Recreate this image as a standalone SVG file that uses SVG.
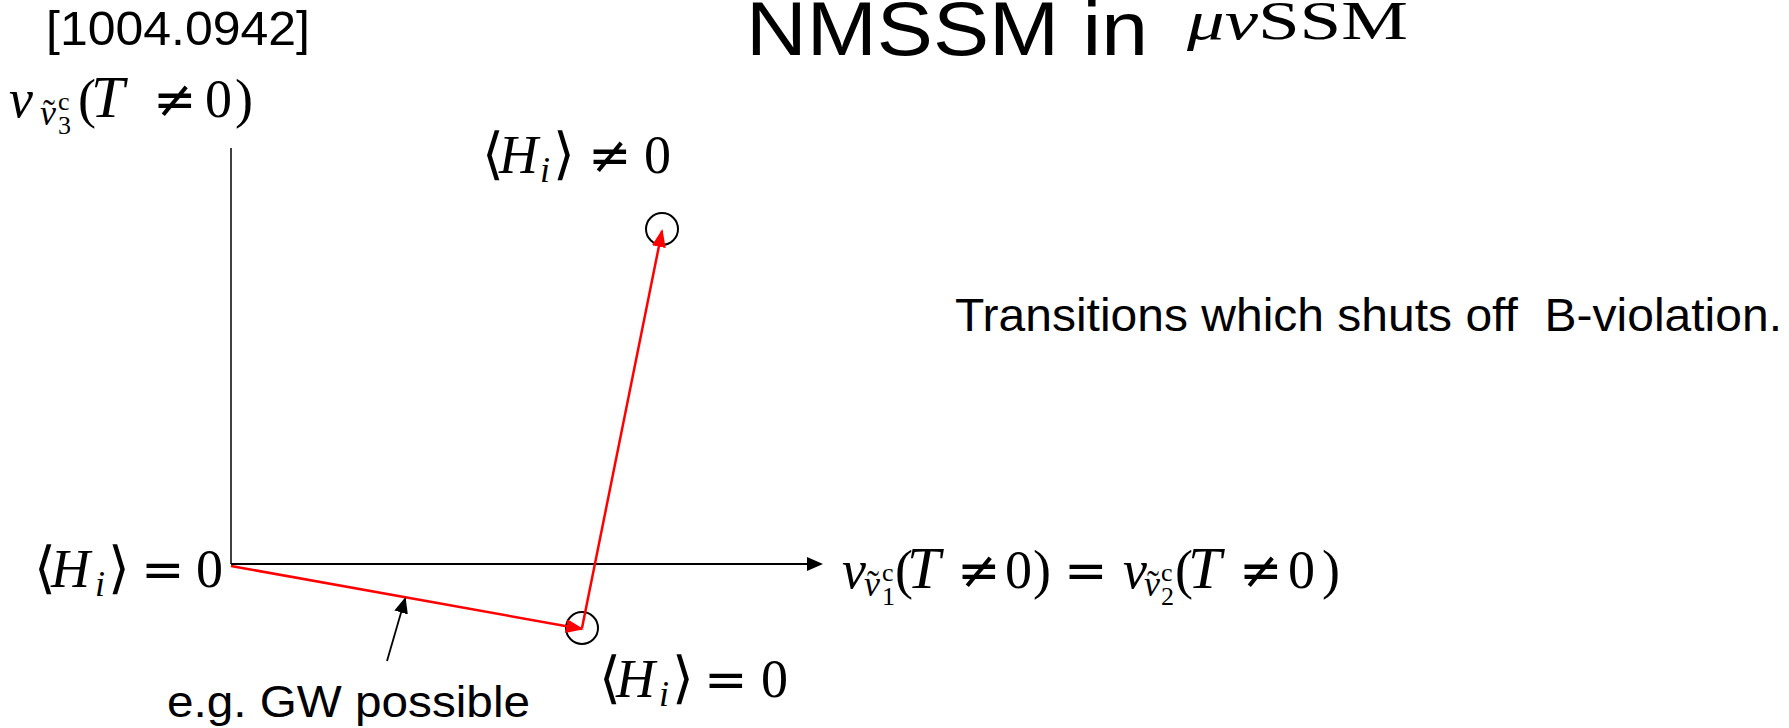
<svg xmlns="http://www.w3.org/2000/svg" width="1789" height="728" viewBox="0 0 1789 728">
<style>
.sans{font-family:"Liberation Sans",Arial,sans-serif;fill:#000}
.m{font-family:"Liberation Serif","DejaVu Serif",serif;fill:#000;font-size:54px}
.it{font-style:italic}
.tt{font-size:60px}
.sub{font-size:36px}
.ss{font-size:26px}
.op{font-family:"DejaVu Sans",sans-serif;font-size:52px}
.br{font-family:"DejaVu Serif",serif;font-size:56px}
.ax{stroke:#000;fill:none}
.red{stroke:#ff0000;fill:none;stroke-width:2.5}
.circ{stroke:#000;stroke-width:2;fill:none}
</style>
<defs>
<marker id="ar" markerUnits="userSpaceOnUse" markerWidth="20" markerHeight="16" refX="16" refY="7" orient="auto">
<path d="M0,0 L18,7 L0,14 Z" fill="#ff0000"/>
</marker>
<marker id="ab" markerUnits="userSpaceOnUse" markerWidth="18" markerHeight="16" refX="14" refY="7" orient="auto">
<path d="M0,0 L16,7 L0,14 Z" fill="#000"/>
</marker>
</defs>
<rect width="1789" height="728" fill="#fff"/>

<g id="title">
<text class="sans" x="746" y="55" font-size="76" textLength="402" lengthAdjust="spacingAndGlyphs">NMSSM in</text>
<text class="m" x="1187" y="39" font-size="68" textLength="221" lengthAdjust="spacingAndGlyphs"><tspan class="it">μν</tspan>SSM</text>
</g>

<g id="ref">
<text class="sans" x="46" y="45" font-size="48" textLength="264" lengthAdjust="spacingAndGlyphs">[1004.0942]</text>
</g>

<g id="yaxis-label">
<text class="m" y="117"><tspan class="it" x="9">v</tspan><tspan class="it sub" x="40" y="125">ν</tspan><tspan class="sub" x="43" y="125">˜</tspan><tspan class="ss" x="58" y="110">c</tspan><tspan class="ss" x="58" y="134">3</tspan><tspan x="78" y="117">(</tspan><tspan class="it tt" x="91">T</tspan><tspan class="op" x="153">≠</tspan><tspan x="205">0</tspan><tspan x="235">)</tspan></text>
</g>

<g id="xaxis-label">
<text class="m" y="588"><tspan class="it" x="842">v</tspan><tspan class="it sub" x="864" y="596">ν</tspan><tspan class="sub" x="867" y="596">˜</tspan><tspan class="ss" x="882" y="581">c</tspan><tspan class="ss" x="882" y="605">1</tspan><tspan x="895" y="588">(</tspan><tspan class="it tt" x="907">T</tspan><tspan class="op" x="957">≠</tspan><tspan x="1005">0</tspan><tspan x="1033">)</tspan><tspan class="op" x="1064">=</tspan><tspan class="it" x="1123">v</tspan><tspan class="it sub" x="1144" y="596">ν</tspan><tspan class="sub" x="1147" y="596">˜</tspan><tspan class="ss" x="1161" y="581">c</tspan><tspan class="ss" x="1161" y="605">2</tspan><tspan x="1175" y="588">(</tspan><tspan class="it tt" x="1188">T</tspan><tspan class="op" x="1239">≠</tspan><tspan x="1288">0</tspan><tspan x="1322">)</tspan></text>
</g>

<g id="origin-label">
<text class="m" y="587"><tspan class="br" x="34">⟨</tspan><tspan class="it" x="51">H</tspan><tspan class="it sub" x="95" y="596">i</tspan><tspan class="br" x="108" y="587">⟩</tspan><tspan class="op" x="141">=</tspan><tspan x="196">0</tspan></text>
</g>

<g id="top-label">
<text class="m" y="173"><tspan class="br" x="482">⟨</tspan><tspan class="it" x="499">H</tspan><tspan class="it sub" x="540" y="182">i</tspan><tspan class="br" x="553" y="173">⟩</tspan><tspan class="op" x="588">≠</tspan><tspan x="644">0</tspan></text>
</g>

<g id="bottom-label">
<text class="m" y="697"><tspan class="br" x="599">⟨</tspan><tspan class="it" x="616">H</tspan><tspan class="it sub" x="659" y="706">i</tspan><tspan class="br" x="672" y="697">⟩</tspan><tspan class="op" x="704">=</tspan><tspan x="761">0</tspan></text>
</g>

<g id="note">
<text class="sans" x="955" y="331" font-size="46" textLength="827" lengthAdjust="spacingAndGlyphs">Transitions which shuts off&#160; B-violation.</text>
</g>

<g id="gw-label">
<text class="sans" x="167" y="717" font-size="45" textLength="363" lengthAdjust="spacingAndGlyphs">e.g. GW possible</text>
</g>

<g id="node-top">
<circle class="circ" cx="662" cy="229" r="16"/>
</g>
<g id="node-bottom">
<circle class="circ" cx="582" cy="628" r="16"/>
</g>

<g id="connectors">
<line class="ax" x1="231" y1="148" x2="231" y2="564" stroke-width="1.5"/>
<line class="ax" x1="231" y1="564" x2="821" y2="564" stroke-width="2.2" marker-end="url(#ab)"/>
<line class="red" x1="231" y1="566" x2="582" y2="629" marker-end="url(#ar)"/>
<line class="red" x1="582" y1="628" x2="662" y2="231" stroke-width="2" marker-end="url(#ar)"/>
<line class="ax" x1="387" y1="661" x2="405" y2="599" stroke-width="1.8" marker-end="url(#ab)"/>
</g>
</svg>
